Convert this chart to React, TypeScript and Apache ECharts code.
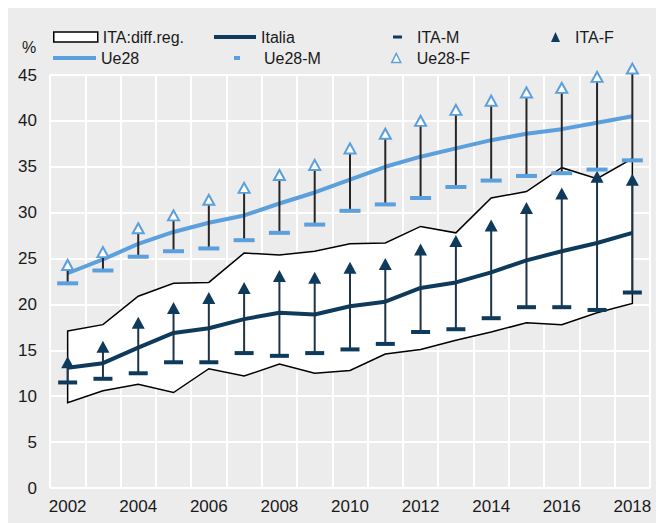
import React, { useEffect, useRef } from "react";
import * as echarts from "echarts";

const years = ["2002","2003","2004","2005","2006","2007","2008","2009","2010","2011","2012","2013","2014","2015","2016","2017","2018"];
const ue28 = [23.4, 24.9, 26.6, 27.9, 28.9, 29.7, 31.0, 32.2, 33.6, 35.0, 36.1, 37.0, 37.9, 38.6, 39.1, 39.8, 40.5];
const ue28F = [24.3, 25.7, 28.3, 29.7, 31.4, 32.7, 34.1, 35.2, 37.0, 38.6, 40.0, 41.2, 42.2, 43.1, 43.6, 44.8, 45.7];
const ue28M = [22.3, 23.7, 25.2, 25.8, 26.1, 27.0, 27.8, 28.7, 30.2, 30.9, 31.6, 32.8, 33.5, 34.0, 34.3, 34.7, 35.7];
const italia = [13.1, 13.6, 15.3, 16.9, 17.4, 18.4, 19.1, 18.9, 19.8, 20.3, 21.8, 22.4, 23.5, 24.8, 25.8, 26.7, 27.8];
const itaF = [13.7, 15.4, 18.0, 19.6, 20.7, 21.8, 23.1, 22.9, 24.0, 24.4, 26.0, 26.9, 28.6, 30.5, 32.1, 33.9, 33.6];
const itaM = [11.5, 11.9, 12.5, 13.7, 13.7, 14.7, 14.4, 14.7, 15.1, 15.7, 17.0, 17.3, 18.5, 19.7, 19.7, 19.4, 21.3];
const regMax = [17.1, 17.8, 20.9, 22.3, 22.4, 25.6, 25.4, 25.8, 26.6, 26.7, 28.5, 27.8, 31.6, 32.3, 34.9, 33.7, 35.9];
const regMin = [9.3, 10.6, 11.3, 10.4, 13.0, 12.2, 13.5, 12.5, 12.8, 14.6, 15.1, 16.1, 17.0, 18.0, 17.8, 19.1, 20.1];

const NAVY = "#0e3a5c";
const BLUE = "#5b9fdc";
const FONT = '"Liberation Sans Narrow", "Arial Narrow", "Liberation Sans", Arial, sans-serif';
const TXT = "#1a1a1a";

function legendItem(name: string, left: number, top: number, w: number, h: number, icon: string, itemStyle: any, gap: number) {
  return {
    show: true,
    left,
    top,
    padding: 0,
    itemWidth: w,
    itemHeight: h,
    itemGap: 0,
    selectedMode: false,
    textStyle: { fontFamily: FONT, fontSize: 16, color: TXT, padding: [0, 0, 0, gap] },
    data: [{ name, icon, itemStyle }],
  };
}

export default function App() {
  const ref = useRef<HTMLDivElement>(null);
  useEffect(() => {
    const chart = echarts.init(ref.current!, undefined, { renderer: "svg" });
    const rangeItem = (color: string) => (params: any, api: any) => {
      const p1 = api.coord([api.value(0), api.value(1)]);
      const p2 = api.coord([api.value(0), api.value(2)]);
      return {
        type: "line",
        shape: { x1: p1[0], y1: p1[1], x2: p2[0], y2: p2[1] },
        style: { stroke: color, lineWidth: 2 },
      };
    };
    chart.setOption({
      animation: false,
      backgroundColor: "#ececec",
      grid: { left: 42, right: 6, top: 67, bottom: 35, containLabel: false },
      legend: [
        legendItem("ITA:diff.reg.", 45, 21, 44, 10, "rect", { color: "#ffffff", borderColor: "#000", borderWidth: 1.5 }, 0),
        legendItem("Italia", 206, 21, 42, 4, "rect", { color: NAVY }, 0),
        legendItem("ITA-M", 385, 21, 9, 3, "rect", { color: NAVY }, 10),
        legendItem("ITA-F", 543, 21, 9, 10, "triangle", { color: NAVY }, 10),
        legendItem("Ue28", 45, 42, 43, 4, "rect", { color: BLUE }, 0),
        legendItem("Ue28-M", 226, 42, 6, 4, "rect", { color: BLUE }, 19),
        legendItem("Ue28-F", 383, 42, 9, 9, "triangle", { color: "#ffffff", borderColor: BLUE, borderWidth: 1.5 }, 11),
      ],
      graphic: [
        { type: "text", left: 14, top: 31, style: { text: "%", fontFamily: FONT, fontSize: 16, fill: TXT } },
      ],
      xAxis: {
        type: "category",
        data: years,
        boundaryGap: true,
        axisLine: { show: false },
        axisTick: { show: false },
        axisLabel: { interval: 1, margin: 10, fontFamily: FONT, fontSize: 17, color: TXT },
        splitLine: { show: true, interval: 0, lineStyle: { color: "#ffffff", width: 2 } },
      },
      yAxis: {
        type: "value",
        min: 0,
        max: 45,
        interval: 5,
        axisLine: { show: false },
        axisTick: { show: false },
        axisLabel: { margin: 13, fontFamily: FONT, fontSize: 17, color: TXT },
        splitLine: { show: true, lineStyle: { color: "#ffffff", width: 2 } },
      },
      series: [
        {
          name: "ITA:diff.reg.",
          type: "custom",
          z: 2,
          clip: false,
          data: years.map((_, i) => [i, regMin[i], regMax[i]]),
          renderItem: (params: any, api: any) => {
            if (params.dataIndex !== 0) return null;
            const pts: number[][] = [];
            for (let k = 0; k < years.length; k++) pts.push(api.coord([k, regMax[k]]));
            for (let k = years.length - 1; k >= 0; k--) pts.push(api.coord([k, regMin[k]]));
            return {
              type: "polygon",
              shape: { points: pts },
              style: { fill: "#ffffff", stroke: "#000000", lineWidth: 1.5 },
            };
          },
        },
        {
          name: "Italia",
          type: "line",
          z: 3,
          data: italia,
          symbol: "none",
          lineStyle: { color: NAVY, width: 4 },
          itemStyle: { color: NAVY },
        },
        {
          name: "Ue28",
          type: "line",
          z: 3,
          data: ue28,
          symbol: "none",
          lineStyle: { color: BLUE, width: 4 },
          itemStyle: { color: BLUE },
        },
        {
          name: "itaRange",
          type: "custom",
          z: 4,
          clip: false,
          data: years.map((_, i) => [i, itaM[i], itaF[i]]),
          renderItem: rangeItem("#1e3346"),
        },
        {
          name: "ueRange",
          type: "custom",
          z: 4,
          clip: false,
          data: years.map((_, i) => [i, ue28M[i], ue28F[i]]),
          renderItem: rangeItem("#262626"),
        },
        {
          name: "ITA-M",
          type: "scatter",
          z: 5,
          clip: false,
          data: itaM,
          symbol: "rect",
          symbolSize: [19, 4],
          itemStyle: { color: NAVY, opacity: 1 },
        },
        {
          name: "ITA-F",
          type: "scatter",
          z: 5,
          clip: false,
          data: itaF,
          symbol: "triangle",
          symbolSize: [13, 12],
          itemStyle: { color: NAVY, opacity: 1 },
        },
        {
          name: "Ue28-M",
          type: "scatter",
          z: 5,
          clip: false,
          data: ue28M,
          symbol: "rect",
          symbolSize: [21, 4],
          itemStyle: { color: BLUE, opacity: 1 },
        },
        {
          name: "Ue28-F",
          type: "scatter",
          z: 5,
          clip: false,
          data: ue28F,
          symbol: "triangle",
          symbolSize: [11, 10],
          itemStyle: { color: "#ffffff", borderColor: BLUE, borderWidth: 2, opacity: 1 },
        },
      ],
    });
    return () => chart.dispose();
  }, []);
  return <div ref={ref} style={{ width: 648, height: 515 }} />;
}
